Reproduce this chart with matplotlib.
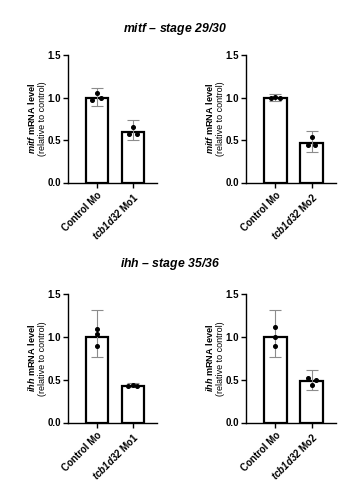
import numpy as np
import matplotlib
matplotlib.use("Agg")
import matplotlib.pyplot as plt

plt.rcParams['font.family'] = ['Liberation Sans', 'DejaVu Sans']
plt.rcParams['mathtext.fontset'] = 'custom'
plt.rcParams['mathtext.rm'] = 'Liberation Sans'
plt.rcParams['mathtext.it'] = 'Liberation Sans:italic'
plt.rcParams['mathtext.bf'] = 'Liberation Sans:bold'
plt.rcParams['mathtext.bfit'] = 'Liberation Sans:italic:bold'

# ---- data ----
titles = [r"$\mathbfit{mitf}$ – stage 29/30", r"$\mathbfit{ihh}$ – stage 35/36"]
genes = ["mitf", "mitf", "ihh", "ihh"]
groups = [["Control Mo", r"$\mathbfit{tcb1d32}$ Mo1"],
          ["Control Mo", r"$\mathbfit{tcb1d32}$ Mo2"],
          ["Control Mo", r"$\mathbfit{tcb1d32}$ Mo1"],
          ["Control Mo", r"$\mathbfit{tcb1d32}$ Mo2"]]

means = [[1.00, 0.59], [1.00, 0.47], [1.00, 0.43], [1.00, 0.48]]
err_lo = [[0.905, 0.495], [0.96, 0.36], [0.76, 0.41], [0.76, 0.38]]
err_hi = [[1.11, 0.74], [1.04, 0.605], [1.31, 0.46], [1.31, 0.61]]

points = [[[0.97, 1.05, 0.99], [0.57, 0.655, 0.57]],
          [[1.00, 1.01, 1.00], [0.44, 0.53, 0.44]],
          [[1.095, 1.03, 0.89], [0.425, 0.44, 0.425]],
          [[1.11, 1.00, 0.89], [0.52, 0.437, 0.50]]]
jitter = [[[-0.12, 0.0, 0.11], [-0.11, 0.0, 0.11]],
          [[-0.12, 0.0, 0.12], [-0.11, 0.0, 0.10]],
          [[0.0, 0.0, 0.0], [-0.12, 0.0, 0.12]],
          [[0.0, 0.0, 0.0], [-0.11, 0.0, 0.12]]]

yticks = [0.0, 0.5, 1.0, 1.5]

fig = plt.figure(figsize=(3.63, 5.0), dpi=100)

ax_rects = [[0.187, 0.635, 0.245, 0.255],
            [0.678, 0.635, 0.248, 0.255],
            [0.187, 0.155, 0.245, 0.257],
            [0.678, 0.155, 0.248, 0.257]]

for i in range(4):
    ax = fig.add_axes(ax_rects[i])
    x = np.arange(2)
    m = np.array(means[i])
    lo = m - np.array(err_lo[i])
    hi = np.array(err_hi[i]) - m
    ax.bar(x, m, width=0.62, color='white', edgecolor='black',
           linewidth=1.6, zorder=2)
    ax.errorbar(x, m, yerr=[lo, hi], fmt='none', ecolor='#8c8c8c',
                elinewidth=0.8, capsize=4.5, capthick=0.8, zorder=3)
    for k in range(2):
        ax.plot(x[k] + np.array(jitter[i][k]), points[i][k], 'o',
                color='black', markersize=2.6, zorder=4)
    ax.set_xlim(-0.8, 1.67)
    ax.set_ylim(0, 1.5)
    ax.set_yticks(yticks)
    ax.set_yticklabels(["%.1f" % v for v in yticks], fontsize=7,
                       fontweight='bold')
    ax.set_xticks(x)
    ax.set_xticklabels(groups[i], rotation=45, ha='right',
                       rotation_mode='anchor', fontsize=7, fontweight='bold')
    for s in ['top', 'right']:
        ax.spines[s].set_visible(False)
    for s in ['left', 'bottom']:
        ax.spines[s].set_linewidth(1.0)
    ax.tick_params(width=1.0, length=3.5, pad=1.5)
    ax.tick_params(axis='x', pad=2)
    # two-line y label, first line bold
    w_px = ax_rects[i][2] * 363
    ax.text(-36.5 / w_px, 0.5, r"$\mathbfit{" + genes[i] + r"}$ mRNA level",
            transform=ax.transAxes, rotation=90, ha='center', va='center',
            fontsize=6.6, fontweight='bold')
    ax.text(-25.5 / w_px, 0.5, "(relative to control)",
            transform=ax.transAxes, rotation=90, ha='center', va='center',
            fontsize=6.5)

fig.text(0.483, 0.942, titles[0], ha='center', va='center', fontsize=8.8,
         fontweight='bold', fontstyle='italic')
fig.text(0.468, 0.472, titles[1], ha='center', va='center', fontsize=8.8,
         fontweight='bold', fontstyle='italic')

fig.savefig("out.png", dpi=100)
